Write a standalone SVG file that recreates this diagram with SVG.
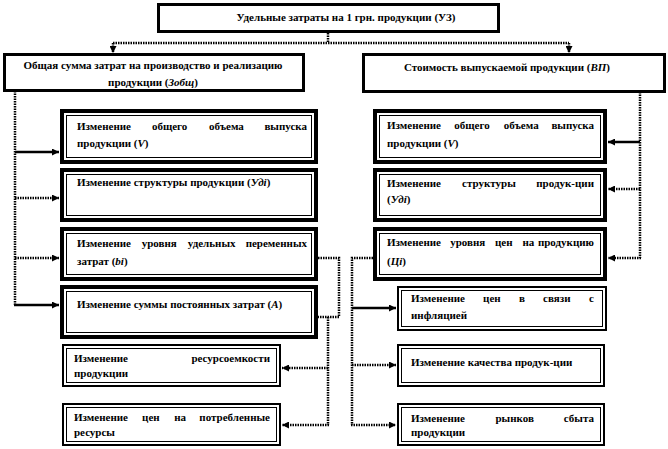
<svg xmlns="http://www.w3.org/2000/svg" width="668" height="449" viewBox="0 0 668 449">
<style>
.t{font-family:"Liberation Serif","Times New Roman",serif;font-size:11px;font-weight:bold;fill:#000}
.i{font-style:italic}
.c{text-anchor:middle}
.m{text-anchor:middle}
.e{text-anchor:end}
.main{fill:#fff;stroke:#000;stroke-width:3}
.thk{fill:#fff;stroke:#000;stroke-width:4}
.thn{fill:#fff;stroke:#000;stroke-width:2}
.in{fill:none;stroke:#000;stroke-width:1}
.ln{fill:none;stroke:#000;stroke-width:2.5}
.dot{stroke-dasharray:1.5 1}
</style>
<defs>
<marker id="ah" viewBox="0 0 10 10" refX="10" refY="5" markerWidth="7" markerHeight="7" markerUnits="userSpaceOnUse" orient="auto"><path d="M0,0 L10,5 L0,10z" fill="#000"/></marker>
</defs>
<rect width="668" height="449" fill="#fff"/>

<g id="connectors">
<path class="ln dot" d="M328,33 V43"/>
<path class="ln dot" d="M113,43 H569"/>
<path class="ln dot" d="M113,43 V53" marker-end="url(#ah)"/>
<path class="ln dot" d="M569,43 V53" marker-end="url(#ah)"/>
<path class="ln dot" d="M15,91 V305"/>
<path class="ln" d="M15,152 H59" marker-end="url(#ah)"/>
<path class="ln dot" d="M15,198 H59" marker-end="url(#ah)"/>
<path class="ln dot" d="M15,258 H59" marker-end="url(#ah)"/>
<path class="ln" d="M14,305 H59" marker-end="url(#ah)"/>
<path class="ln dot" d="M318,258 H339 V317 H318"/>
<path class="ln dot" d="M328,317 V425"/>
<path class="ln dot" d="M328,368 H282" marker-end="url(#ah)"/>
<path class="ln dot" d="M329,425 H282" marker-end="url(#ah)"/>
<path class="ln dot" d="M640,92 V258"/>
<path class="ln" d="M640,142 H608" marker-end="url(#ah)"/>
<path class="ln dot" d="M640,189 H608" marker-end="url(#ah)"/>
<path class="ln dot" d="M641,258 H608" marker-end="url(#ah)"/>
<path class="ln dot" d="M373,258 H352 V425"/>
<path class="ln" d="M352,308 H396" marker-end="url(#ah)"/>
<path class="ln dot" d="M352,365 H396" marker-end="url(#ah)"/>
<path class="ln dot" d="M351,425 H396" marker-end="url(#ah)"/>
</g>

<g id="header">
<rect class="main" x="158.5" y="4.5" width="340" height="27"/>
<text class="t c" x="346" y="21">Удельные затраты на 1 грн. продукции (УЗ)</text>
</g>

<g id="total-costs">
<rect class="main" x="4.5" y="54.5" width="299" height="36"/>
<text class="t c" x="153" y="69">Общая сумма затрат на производство и реализацию</text>
<text class="t c" x="153" y="86">продукции (<tspan class="i">Зобщ</tspan>)</text>
</g>

<g id="output-value">
<rect class="main" x="363.5" y="54.5" width="301" height="37"/>
<text class="t c" x="507" y="71">Стоимость выпускаемой продукции (<tspan class="i">ВП</tspan>)</text>
</g>

<g id="L1">
<rect class="thk" x="62" y="111" width="254" height="51"/>
<rect class="in" x="66.5" y="115.5" width="245" height="42"/>
<text class="t" x="77" y="130">Изменение</text>
<text class="t m" x="169.6" y="130">общего</text>
<text class="t m" x="226.4" y="130">объема</text>
<text class="t e" x="307" y="130">выпуска</text>
<text class="t" x="77" y="147">продукции (<tspan class="i">V</tspan>)</text>
</g>

<g id="L2">
<rect class="thk" x="62" y="170" width="254" height="50"/>
<rect class="in" x="66.5" y="174.5" width="245" height="41"/>
<text class="t" x="77" y="186">Изменение структуры продукции (<tspan class="i">Удi</tspan>)</text>
</g>

<g id="L3">
<rect class="thk" x="62" y="229" width="254" height="50"/>
<rect class="in" x="66.5" y="233.5" width="245" height="41"/>
<text class="t" x="77" y="247">Изменение</text>
<text class="t m" x="159.3" y="247">уровня</text>
<text class="t m" x="211.7" y="247">удельных</text>
<text class="t e" x="307" y="247">переменных</text>
<text class="t" x="77" y="265">затрат (<tspan class="i">bi</tspan>)</text>
</g>

<g id="L4">
<rect class="thk" x="62" y="287" width="254" height="50"/>
<rect class="in" x="66.5" y="291.5" width="245" height="41"/>
<text class="t" x="77" y="308">Изменение суммы постоянных затрат (<tspan class="i">А</tspan>)</text>
</g>

<g id="L5">
<rect class="thn" x="63" y="345" width="217" height="41"/>
<rect class="in" x="66.5" y="348.5" width="210" height="34"/>
<text class="t" x="74" y="362">Изменение</text>
<text class="t e" x="270" y="362">ресурсоемкости</text>
<text class="t" x="74" y="377">продукции</text>
</g>

<g id="L6">
<rect class="thn" x="63" y="404" width="217" height="41"/>
<rect class="in" x="66.5" y="407.5" width="210" height="34"/>
<text class="t" x="74" y="421">Изменение</text>
<text class="t m" x="150.9" y="421">цен</text>
<text class="t m" x="180.2" y="421">на</text>
<text class="t e" x="270" y="421">потребленные</text>
<text class="t" x="74" y="436">ресурсы</text>
</g>

<g id="R1">
<rect class="thk" x="375" y="111" width="230" height="51"/>
<rect class="in" x="379.5" y="115.5" width="221" height="42"/>
<text class="t" x="387" y="129">Изменение</text>
<text class="t m" x="472" y="129">общего</text>
<text class="t m" x="521.2" y="129">объема</text>
<text class="t e" x="594" y="129">выпуска</text>
<text class="t" x="387" y="147">продукции (<tspan class="i">V</tspan>)</text>
</g>

<g id="R2">
<rect class="thk" x="375" y="170" width="230" height="50"/>
<rect class="in" x="379.5" y="174.5" width="221" height="41"/>
<text class="t" x="387" y="187">Изменение</text>
<text class="t m" x="488.9" y="187">структуры</text>
<text class="t e" x="594" y="187">продук-ции</text>
<text class="t" x="387" y="203">(<tspan class="i">Удi</tspan>)</text>
</g>

<g id="R3">
<rect class="thk" x="375" y="229" width="230" height="50"/>
<rect class="in" x="379.5" y="233.5" width="221" height="41"/>
<text class="t" x="387" y="246">Изменение</text>
<text class="t m" x="467.7" y="246">уровня</text>
<text class="t m" x="503.7" y="246">цен</text>
<text class="t m" x="528.3" y="246">на</text>
<text class="t e" x="594" y="246">продукцию</text>
<text class="t" x="387" y="265">(<tspan class="i">Цi</tspan>)</text>
</g>

<g id="R4">
<rect class="thn" x="398" y="287" width="208" height="43"/>
<rect class="in" x="401.5" y="290.5" width="201" height="36"/>
<text class="t" x="411" y="302">Изменение</text>
<text class="t m" x="491.9" y="302">цен</text>
<text class="t m" x="522" y="302">в</text>
<text class="t m" x="556.8" y="302">связи</text>
<text class="t e" x="594" y="302">с</text>
<text class="t" x="411" y="319">инфляцией</text>
</g>

<g id="R5">
<rect class="thn" x="398" y="345" width="206" height="41"/>
<rect class="in" x="401.5" y="348.5" width="199" height="34"/>
<text class="t" x="411" y="366">Изменение качества продук-ции</text>
</g>

<g id="R6">
<rect class="thn" x="398" y="404" width="206" height="41"/>
<rect class="in" x="401.5" y="407.5" width="199" height="34"/>
<text class="t" x="411" y="422">Изменение</text>
<text class="t m" x="514.7" y="422">рынков</text>
<text class="t e" x="594" y="422">сбыта</text>
<text class="t" x="411" y="436">продукции</text>
</g>
</svg>
